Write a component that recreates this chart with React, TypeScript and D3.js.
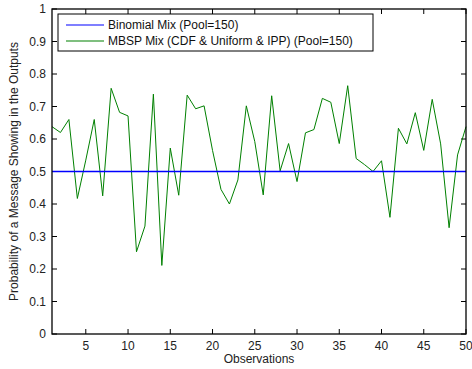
import React from "react";
import * as d3 from "d3";

const width = 472;
const height = 369;
const margin = { top: 9, right: 6, bottom: 35, left: 52 };

// observation index 1..50
const observations = d3.range(1, 51);

// MBSP Mix (CDF & Uniform & IPP) values
const mbspValues = [
  0.638, 0.62, 0.66, 0.417, 0.535, 0.66, 0.425, 0.756, 0.682, 0.671,
  0.253, 0.332, 0.738, 0.211, 0.572, 0.427, 0.735, 0.693, 0.702, 0.565,
  0.445, 0.4, 0.474, 0.702, 0.592, 0.428, 0.733, 0.502, 0.586, 0.469,
  0.619, 0.629, 0.725, 0.713, 0.586, 0.764, 0.54, 0.521, 0.5, 0.533,
  0.359, 0.633, 0.585, 0.681, 0.565, 0.722, 0.585, 0.327, 0.551, 0.638,
];

// Binomial Mix is flat at 0.5
const binomialValues = observations.map(() => 0.5);

const xTicks = [5, 10, 15, 20, 25, 30, 35, 40, 45, 50];
const yTicks = [0, 0.1, 0.2, 0.3, 0.4, 0.5, 0.6, 0.7, 0.8, 0.9, 1];

const seriesNames = [
  "Binomial Mix (Pool=150)",
  "MBSP Mix (CDF & Uniform & IPP) (Pool=150)",
];
const seriesColors = ["#0000ff", "#008000"];

const font = "'Liberation Sans', Arial, Helvetica, sans-serif";

export default function App() {
  const x = d3
    .scaleLinear()
    .domain([1, 50])
    .range([margin.left, width - margin.right]);
  const y = d3
    .scaleLinear()
    .domain([0, 1])
    .range([height - margin.bottom, margin.top]);

  const line = d3
    .line<number>()
    .x((_, i) => x(observations[i]))
    .y((d) => y(d));

  const x0 = margin.left;
  const x1 = width - margin.right;
  const y0 = height - margin.bottom;
  const y1 = margin.top;
  const tick = 5;

  return (
    <svg
      width={width}
      height={height}
      style={{ position: "absolute", left: 0, top: 0, background: "#fff" }}
      fontFamily={font}
    >
      <rect x={0} y={0} width={width} height={height} fill="#fff" />

      {/* ticks on all sides, pointing inward */}
      <g stroke="#000" strokeWidth={1}>
        {xTicks.map((t) => (
          <g key={"xt" + t}>
            <line x1={x(t)} x2={x(t)} y1={y0} y2={y0 - tick} />
            <line x1={x(t)} x2={x(t)} y1={y1} y2={y1 + tick} />
          </g>
        ))}
        {yTicks.map((t) => (
          <g key={"yt" + t}>
            <line x1={x0} x2={x0 + tick} y1={y(t)} y2={y(t)} />
            <line x1={x1} x2={x1 - tick} y1={y(t)} y2={y(t)} />
          </g>
        ))}
      </g>

      {/* data */}
      <path d={line(mbspValues) || ""} fill="none" stroke={seriesColors[1]} strokeWidth={1} />
      <path d={line(binomialValues) || ""} fill="none" stroke={seriesColors[0]} strokeWidth={1.5} />

      {/* frame */}
      <rect x={x0} y={y1} width={x1 - x0} height={y0 - y1} fill="none" stroke="#000" strokeWidth={1.3} />

      {/* tick labels */}
      <g fontSize={12} fill="#222">
        {xTicks.map((t) => (
          <text key={"xl" + t} x={x(t)} y={y0 + 16} textAnchor="middle">
            {t}
          </text>
        ))}
        {yTicks.map((t) => (
          <text key={"yl" + t} x={x0 - 6} y={y(t) + 4} textAnchor="end">
            {String(t)}
          </text>
        ))}
      </g>

      {/* axis titles */}
      <text x={(x0 + x1) / 2} y={height - 6} textAnchor="middle" fontSize={12} fill="#222">
        Observations
      </text>
      <text
        transform={`translate(18,${(y0 + y1) / 2}) rotate(-90)`}
        textAnchor="middle"
        fontSize={12}
        fill="#222"
      >
        Probability of a Message Showing in the Outputs
      </text>

      {/* legend */}
      <g>
        <rect x={58} y={14} width={315} height={37} fill="#fff" stroke="#000" strokeWidth={1} />
        {seriesNames.map((name, i) => (
          <g key={name}>
            <line x1={66} x2={104} y1={25 + i * 16} y2={25 + i * 16} stroke={seriesColors[i]} strokeWidth={1.2} />
            <text x={108} y={29 + i * 16} fontSize={12} fill="#111">
              {name}
            </text>
          </g>
        ))}
      </g>
    </svg>
  );
}
